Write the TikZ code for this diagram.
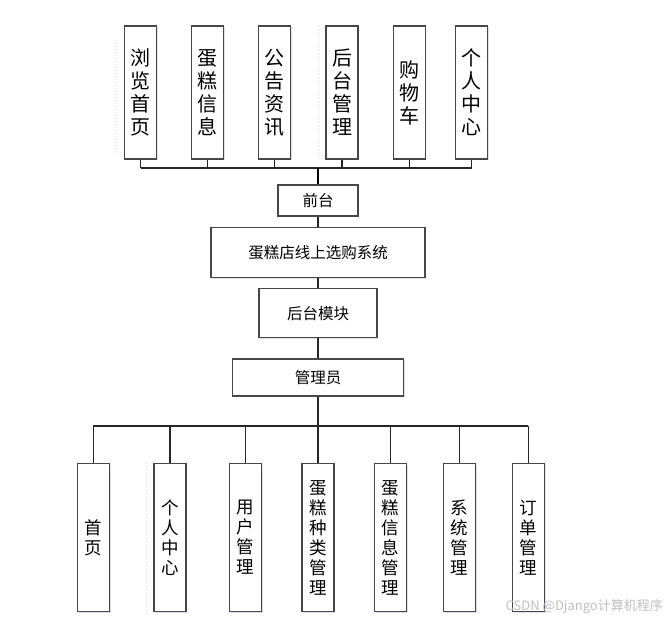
\documentclass[tikz,border=0pt]{standalone}
\usepackage{fontspec}
\setmainfont{Noto Sans CJK SC}
\usetikzlibrary{shadows}
\begin{document}
\begin{tikzpicture}[x=1pt,y=-1pt,
  box/.style={draw=black!72, line width=1.1pt, fill=white, inner sep=0pt, align=center,
    drop shadow={shadow xshift=1.2pt, shadow yshift=-1.2pt, fill=blue!25!gray, opacity=0.2}},
  topbox/.style={box, minimum width=32pt, minimum height=133pt, font=\fontsize{20}{23}\selectfont},
  botbox/.style={box, minimum width=32pt, minimum height=148pt, font=\fontsize{17.5}{20}\selectfont},
  midbox/.style={box, font=\fontsize{15.5}{18}\selectfont},
  link/.style={draw=black!85, line width=1.1pt},
  trunk/.style={draw=black, line width=2pt},
  faint/.style={draw=blue!30!gray!25, line width=0.5pt, dash pattern=on 1pt off 2pt}
]
\useasboundingbox (0,0) rectangle (670,621);

% faint dotted guide lines
\draw[faint] (115,40) -- (115,155);
\draw[faint] (318,26) -- (318,160);
\draw[faint] (146,463) -- (146,615);

% top boxes
\node[topbox] (t1) at (140.7,92.5) {浏\\览\\首\\页};
\node[topbox] (t2) at (207.7,92.5) {蛋\\糕\\信\\息};
\node[topbox] (t3) at (274.7,92.5) {公\\告\\资\\讯};
\node[topbox] (t4) at (342,92.5) {后\\台\\管\\理};
\node[topbox] (t5) at (409.2,92.5) {购\\物\\车};
\node[topbox] (t6) at (471.7,92.5) {个\\人\\中\\心};

% middle chain
\node[midbox, minimum width=80pt, minimum height=31pt] (qt) at (318,200.5) {前台};
\node[midbox, minimum width=214pt, minimum height=50pt] (sys) at (318,252.3) {蛋糕店线上选购系统};
\node[midbox, minimum width=118pt, minimum height=49pt] (hou) at (318,313.4) {后台模块};
\node[midbox, minimum width=171pt, minimum height=37pt] (adm) at (318,377.5) {管理员};

% bottom boxes
\node[botbox] (b1) at (93.3,537.5) {首\\页};
\node[botbox] (b2) at (170,537.5) {个\\人\\中\\心};
\node[botbox] (b3) at (245.3,537.5) {用\\户\\管\\理};
\node[botbox] (b4) at (318,537.5) {蛋\\糕\\种\\类\\管\\理};
\node[botbox] (b5) at (390.7,537.5) {蛋\\糕\\信\\息\\管\\理};
\node[botbox] (b6) at (459.5,537.5) {系\\统\\管\\理};
\node[botbox] (b7) at (528.3,537.5) {订\\单\\管\\理};

% top bus
\coordinate (tb) at (318,168);
\foreach \i in {1,...,6} {\draw[link] (t\i.south) -- (t\i.south |- tb);}
\draw[link] (t1.south |- tb) -- (t6.south |- tb);
\draw[trunk] (tb) -- (qt.north);

% chain links
\draw[link] (qt.south) -- (sys.north);
\draw[link] (sys.south) -- (hou.north);
\draw[link] (hou.south) -- (adm.north);

% bottom bus
\coordinate (bb) at (318,426);
\draw[link] (adm.south) -- (bb);
\draw[link] (b1.north |- bb) -- (b7.north |- bb);
\foreach \i in {1,...,7} {\draw[link] (b\i.north |- bb) -- (b\i.north);}

% watermark
\node[anchor=east, inner sep=0pt, text=black!25, font=\fontsize{13}{15}\selectfont] (wm) at (663,607) {CSDN @Django计算机程序};
\end{tikzpicture}
\end{document}
